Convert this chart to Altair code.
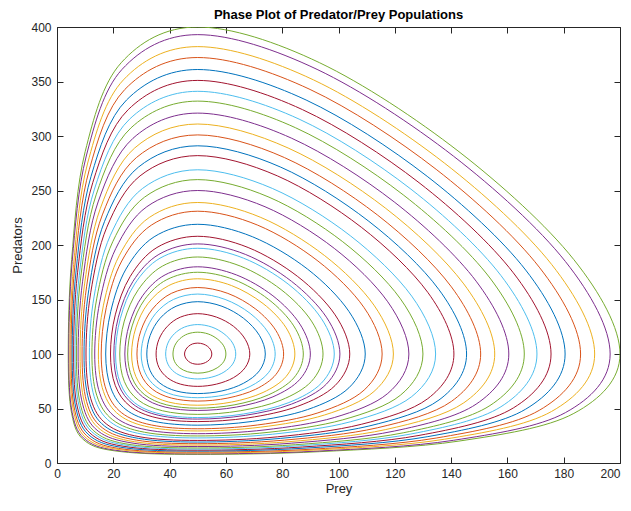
import altair as alt
import pandas as pd

TITLE = "Phase Plot of Predator/Prey Populations"
X_TICKS = [0, 20, 40, 60, 80, 100, 120, 140, 160, 180, 200]
Y_TICKS = [0, 50, 100, 150, 200, 250, 300, 350, 400]

BLUE, ORANGE, YELLOW, PURPLE = "#0072BD", "#D95319", "#EDB120", "#7E2F8E"
GREEN, LIGHTBLUE, RED = "#77AC30", "#4DBEEE", "#A2142F"

ORBIT_COLORS = [GREEN, PURPLE, YELLOW, ORANGE, BLUE, RED, LIGHTBLUE, GREEN, PURPLE,
                YELLOW, ORANGE, BLUE, RED, LIGHTBLUE, GREEN, PURPLE, YELLOW, ORANGE,
                BLUE, RED, PURPLE, LIGHTBLUE, GREEN, PURPLE, GREEN, YELLOW, ORANGE,
                LIGHTBLUE, BLUE, RED, LIGHTBLUE, GREEN, RED]

PREY = [
    [200.0, 183.6, 142.8, 93.3, 50, 22.8, 10.0, 5.2, 4.0, 5.2, 10.0, 22.8, 50, 93.3, 142.8, 183.6],
    [196.5, 180.6, 140.8, 92.4, 50, 23.1, 10.4, 5.4, 4.2, 5.4, 10.4, 23.1, 50, 92.4, 140.8, 180.6],
    [191.0, 175.7, 137.6, 91.1, 50, 23.6, 10.9, 5.9, 4.6, 5.9, 10.9, 23.6, 50, 91.1, 137.6, 175.7],
    [186.0, 171.3, 134.7, 89.9, 50, 24.1, 11.5, 6.3, 5.0, 6.3, 11.5, 24.1, 50, 89.9, 134.7, 171.3],
    [180.5, 166.5, 131.5, 88.5, 50, 24.7, 12.1, 6.8, 5.4, 6.8, 12.1, 24.7, 50, 88.5, 131.5, 166.5],
    [175.5, 162.1, 128.6, 87.2, 50, 25.3, 12.7, 7.3, 5.9, 7.3, 12.7, 25.3, 50, 87.2, 128.6, 162.1],
    [170.5, 157.7, 125.7, 86.0, 50, 25.8, 13.3, 7.9, 6.4, 7.9, 13.3, 25.8, 50, 86.0, 125.7, 157.7],
    [166.0, 153.8, 123.0, 84.8, 50, 26.3, 13.9, 8.4, 6.9, 8.4, 13.9, 26.3, 50, 84.8, 123.0, 153.8],
    [160.5, 148.9, 119.8, 83.4, 50, 27.0, 14.6, 9.1, 7.5, 9.1, 14.6, 27.0, 50, 83.4, 119.8, 148.9],
    [155.5, 144.5, 116.8, 82.1, 50, 27.6, 15.4, 9.8, 8.2, 9.8, 15.4, 27.6, 50, 82.1, 116.8, 144.5],
    [150.5, 140.1, 113.8, 80.8, 50, 28.2, 16.1, 10.5, 8.9, 10.5, 16.1, 28.2, 50, 80.8, 113.8, 140.1],
    [145.5, 135.7, 110.8, 79.5, 50, 28.9, 16.9, 11.3, 9.6, 11.3, 16.9, 28.9, 50, 79.5, 110.8, 135.7],
    [141.0, 131.7, 108.1, 78.3, 50, 29.5, 17.7, 12.0, 10.3, 12.0, 17.7, 29.5, 50, 78.3, 108.1, 131.7],
    [134.5, 126.0, 104.2, 76.5, 50, 30.4, 18.9, 13.2, 11.5, 13.2, 18.9, 30.4, 50, 76.5, 104.2, 126.0],
    [130.0, 122.0, 101.5, 75.3, 50, 31.1, 19.8, 14.1, 12.4, 14.1, 19.8, 31.1, 50, 75.3, 101.5, 122.0],
    [125.0, 117.5, 98.5, 73.9, 50, 31.9, 20.9, 15.2, 13.4, 15.2, 20.9, 31.9, 50, 73.9, 98.5, 117.5],
    [119.5, 112.6, 95.1, 72.4, 50, 32.8, 22.1, 16.5, 14.7, 16.5, 22.1, 32.8, 50, 72.4, 95.1, 112.6],
    [115.5, 109.1, 92.7, 71.3, 50, 33.5, 23.0, 17.5, 15.7, 17.5, 23.0, 33.5, 50, 71.3, 92.7, 109.1],
    [109.5, 103.7, 89.0, 69.5, 50, 34.5, 24.5, 19.1, 17.3, 19.1, 24.5, 34.5, 50, 69.5, 89.0, 103.7],
    [104.0, 98.8, 85.5, 67.9, 50, 35.5, 26.0, 20.7, 19.0, 20.7, 26.0, 35.5, 50, 67.9, 85.5, 98.8],
    [100.5, 95.7, 83.3, 66.9, 50, 36.2, 27.0, 21.8, 20.2, 21.8, 27.0, 36.2, 50, 66.9, 83.3, 95.7],
    [98.5, 93.9, 82.1, 66.3, 50, 36.6, 27.6, 22.5, 20.8, 22.5, 27.6, 36.6, 50, 66.3, 82.1, 93.9],
    [94.5, 90.4, 79.6, 65.1, 50, 37.5, 28.9, 23.9, 22.3, 23.9, 28.9, 37.5, 50, 65.1, 79.6, 90.4],
    [90.0, 86.3, 76.7, 63.7, 50, 38.4, 30.4, 25.7, 24.1, 25.7, 30.4, 38.4, 50, 63.7, 76.7, 86.3],
    [87.5, 84.1, 75.1, 62.9, 50, 39.0, 31.2, 26.7, 25.1, 26.7, 31.2, 39.0, 50, 62.9, 75.1, 84.1],
    [84.5, 81.4, 73.2, 62.0, 50, 39.7, 32.3, 28.0, 26.5, 28.0, 32.3, 39.7, 50, 62.0, 73.2, 81.4],
    [80.5, 77.8, 70.6, 60.7, 50, 40.6, 33.9, 29.8, 28.4, 29.8, 33.9, 40.6, 50, 60.7, 70.6, 77.8],
    [77.5, 75.1, 68.6, 59.7, 50, 41.4, 35.1, 31.3, 29.9, 31.3, 35.1, 41.4, 50, 59.7, 68.6, 75.1],
    [74.0, 71.9, 66.3, 58.6, 50, 42.3, 36.6, 33.1, 31.9, 33.1, 36.6, 42.3, 50, 58.6, 66.3, 71.9],
    [68.5, 66.9, 62.7, 56.7, 50, 43.8, 39.2, 36.2, 35.2, 36.2, 39.2, 43.8, 50, 56.7, 62.7, 66.9],
    [63.5, 62.4, 59.3, 55.0, 50, 45.3, 41.7, 39.4, 38.6, 39.4, 41.7, 45.3, 50, 55.0, 59.3, 62.4],
    [60.0, 59.2, 56.9, 53.7, 50, 46.4, 43.6, 41.8, 41.2, 41.8, 43.6, 46.4, 50, 53.7, 56.9, 59.2],
    [55.0, 54.6, 53.5, 51.9, 50, 48.1, 46.7, 45.7, 45.3, 45.7, 46.7, 48.1, 50, 51.9, 53.5, 54.6],
]

PREDATORS = [
    [100, 186.6, 285.6, 367.2, 400, 367.2, 285.6, 186.6, 100, 45.5, 20.1, 10.4, 7.9, 10.4, 20.1, 45.5],
    [100, 184.9, 281.6, 361.1, 393, 361.1, 281.6, 184.9, 100, 46.2, 20.8, 10.9, 8.4, 10.9, 20.8, 46.2],
    [100, 182.2, 275.2, 351.5, 382, 351.5, 275.2, 182.2, 100, 47.3, 21.8, 11.8, 9.2, 11.8, 21.8, 47.3],
    [100, 179.7, 269.4, 342.7, 372, 342.7, 269.4, 179.7, 100, 48.3, 22.9, 12.6, 10.0, 12.6, 22.9, 48.3],
    [100, 177.0, 263.0, 333.0, 361, 333.0, 263.0, 177.0, 100, 49.4, 24.1, 13.7, 10.9, 13.7, 24.1, 49.4],
    [100, 174.5, 257.2, 324.2, 351, 324.2, 257.2, 174.5, 100, 50.5, 25.3, 14.7, 11.8, 14.7, 25.3, 50.5],
    [100, 172.0, 251.3, 315.5, 341, 315.5, 251.3, 172.0, 100, 51.6, 26.6, 15.8, 12.8, 15.8, 26.6, 51.6],
    [100, 169.7, 246.0, 307.5, 332, 307.5, 246.0, 169.7, 100, 52.7, 27.7, 16.8, 13.8, 16.8, 27.7, 52.7],
    [100, 166.8, 239.5, 297.9, 321, 297.9, 239.5, 166.8, 100, 54.0, 29.3, 18.2, 15.1, 18.2, 29.3, 54.0],
    [100, 164.3, 233.6, 289.0, 311, 289.0, 233.6, 164.3, 100, 55.2, 30.7, 19.5, 16.4, 19.5, 30.7, 55.2],
    [100, 161.6, 227.6, 280.2, 301, 280.2, 227.6, 161.6, 100, 56.5, 32.3, 21.0, 17.7, 21.0, 32.3, 56.5],
    [100, 159.0, 221.7, 271.4, 291, 271.4, 221.7, 159.0, 100, 57.8, 33.9, 22.6, 19.2, 22.6, 33.9, 57.8],
    [100, 156.6, 216.3, 263.4, 282, 263.4, 216.3, 156.6, 100, 59.0, 35.5, 24.0, 20.7, 24.0, 35.5, 59.0],
    [100, 153.1, 208.5, 251.9, 269, 251.9, 208.5, 153.1, 100, 60.9, 37.8, 26.4, 23.0, 26.4, 37.8, 60.9],
    [100, 150.6, 203.0, 243.9, 260, 243.9, 203.0, 150.6, 100, 62.2, 39.6, 28.2, 24.8, 28.2, 39.6, 62.2],
    [100, 147.9, 196.9, 235.1, 250, 235.1, 196.9, 147.9, 100, 63.8, 41.7, 30.4, 26.9, 30.4, 41.7, 63.8],
    [100, 144.8, 190.2, 225.3, 239, 225.3, 190.2, 144.8, 100, 65.6, 44.1, 32.9, 29.4, 32.9, 44.1, 65.6],
    [100, 142.5, 185.3, 218.2, 231, 218.2, 185.3, 142.5, 100, 66.9, 46.0, 34.9, 31.4, 34.9, 46.0, 66.9],
    [100, 139.1, 177.9, 207.5, 219, 207.5, 177.9, 139.1, 100, 69.0, 49.0, 38.2, 34.7, 38.2, 49.0, 69.0],
    [100, 135.9, 171.1, 197.7, 208, 197.7, 171.1, 135.9, 100, 71.1, 52.0, 41.4, 38.0, 41.4, 52.0, 71.1],
    [100, 133.8, 166.7, 191.4, 201, 191.4, 166.7, 133.8, 100, 72.4, 54.0, 43.7, 40.3, 43.7, 54.0, 72.4],
    [100, 132.6, 164.2, 187.9, 197, 187.9, 164.2, 132.6, 100, 73.2, 55.2, 45.0, 41.7, 45.0, 55.2, 73.2],
    [100, 130.2, 159.1, 180.7, 189, 180.7, 159.1, 130.2, 100, 74.9, 57.7, 47.9, 44.6, 47.9, 57.7, 74.9],
    [100, 127.4, 153.4, 172.6, 180, 172.6, 153.4, 127.4, 100, 76.8, 60.7, 51.3, 48.2, 51.3, 60.7, 76.8],
    [100, 125.8, 150.2, 168.2, 175, 168.2, 150.2, 125.8, 100, 78.0, 62.5, 53.3, 50.3, 53.3, 62.5, 78.0],
    [100, 124.0, 146.3, 162.8, 169, 162.8, 146.3, 124.0, 100, 79.4, 64.7, 55.9, 53.0, 55.9, 64.7, 79.4],
    [100, 121.4, 141.2, 155.6, 161, 155.6, 141.2, 121.4, 100, 81.3, 67.7, 59.6, 56.8, 59.6, 67.7, 81.3],
    [100, 119.4, 137.3, 150.1, 155, 150.1, 137.3, 119.4, 100, 82.8, 70.2, 62.5, 59.9, 62.5, 70.2, 82.8],
    [100, 117.1, 132.7, 143.8, 148, 143.8, 132.7, 117.1, 100, 84.6, 73.2, 66.1, 63.7, 66.1, 73.2, 84.6],
    [100, 113.4, 125.4, 133.8, 137, 133.8, 125.4, 113.4, 100, 87.7, 78.3, 72.4, 70.3, 72.4, 78.3, 87.7],
    [100, 110.0, 118.6, 124.7, 127, 124.7, 118.6, 110.0, 100, 90.7, 83.4, 78.8, 77.1, 78.8, 83.4, 90.7],
    [100, 107.5, 113.9, 118.4, 120, 118.4, 113.9, 107.5, 100, 92.9, 87.3, 83.7, 82.4, 83.7, 87.3, 92.9],
    [100, 103.8, 107.0, 109.2, 110, 109.2, 107.0, 103.8, 100, 96.3, 93.3, 91.3, 90.6, 91.3, 93.3, 96.3],
]

rows = []
for k, (xs_, ys_) in enumerate(zip(PREY, PREDATORS)):
    for j, (px, py) in enumerate(zip(xs_, ys_)):
        rows.append({"orbit": f"orbit {k + 1:02d}", "step": j, "prey": px, "predators": py})
df = pd.DataFrame(rows)
orbit_ids = [f"orbit {k + 1:02d}" for k in range(len(PREY))]

W, H = 563, 436
AX = "#262626"
FONT = "Liberation Sans"

x_scale = alt.Scale(domain=[0, 200], nice=False, zero=False)
y_scale = alt.Scale(domain=[0, 400], nice=False, zero=False)

lines = alt.Chart(df).mark_line(
    interpolate="cardinal-closed", strokeWidth=1, clip=True
).encode(
    x=alt.X("prey:Q", scale=x_scale,
            axis=alt.Axis(title="Prey", values=X_TICKS, tickSize=0, labelPadding=5, labelFlush=False,
                          labelAlign=alt.expr("datum.value >= 200 ? 'right' : 'center'"),
                          domain=True, domainColor=AX, domainWidth=1, grid=False,
                          labelFontSize=12, titleFontSize=13, titlePadding=3)),
    y=alt.Y("predators:Q", scale=y_scale,
            axis=alt.Axis(title="Predators", values=Y_TICKS, tickSize=0, labelPadding=6,
                          domain=True, domainColor=AX, domainWidth=1, grid=False,
                          labelFontSize=12, titleFontSize=13, titlePadding=6)),
    color=alt.Color("orbit:N", scale=alt.Scale(domain=orbit_ids, range=ORBIT_COLORS), legend=None),
    order=alt.Order("step:Q"),
)

anchor = df.iloc[:1]


def inner_ticks(x_orient, y_orient, draw_domain):
    return alt.Chart(anchor).mark_point(opacity=0).encode(
        x=alt.X("prey:Q", scale=x_scale,
                axis=alt.Axis(orient=x_orient, offset=-H, values=X_TICKS, labels=False, title="",
                              ticks=True, tickSize=6, tickColor=AX, tickWidth=1,
                              domain=draw_domain, domainColor=AX, domainWidth=1, grid=False)),
        y=alt.Y("predators:Q", scale=y_scale,
                axis=alt.Axis(orient=y_orient, offset=-W, values=Y_TICKS, labels=False, title="",
                              ticks=True, tickSize=6, tickColor=AX, tickWidth=1,
                              domain=draw_domain, domainColor=AX, domainWidth=1, grid=False)),
    )


chart = alt.layer(
    lines,
    inner_ticks("top", "right", False),
    inner_ticks("bottom", "left", True),
).resolve_axis(
    x="independent", y="independent"
).properties(
    width=W,
    height=H,
    title=alt.Title(TITLE, fontSize=13, fontWeight="bold", font=FONT, color="#000000", offset=-1),
    autosize=alt.AutoSizeParams(type="none"),
    padding={"left": 49, "top": 19, "right": 3, "bottom": 33},
).configure_view(
    stroke=None
).configure_axis(
    labelFont=FONT, titleFont=FONT, labelColor=AX, titleColor=AX, titleFontWeight="normal"
)

chart.save("out.html", embed_options={"renderer": "svg", "actions": False})
